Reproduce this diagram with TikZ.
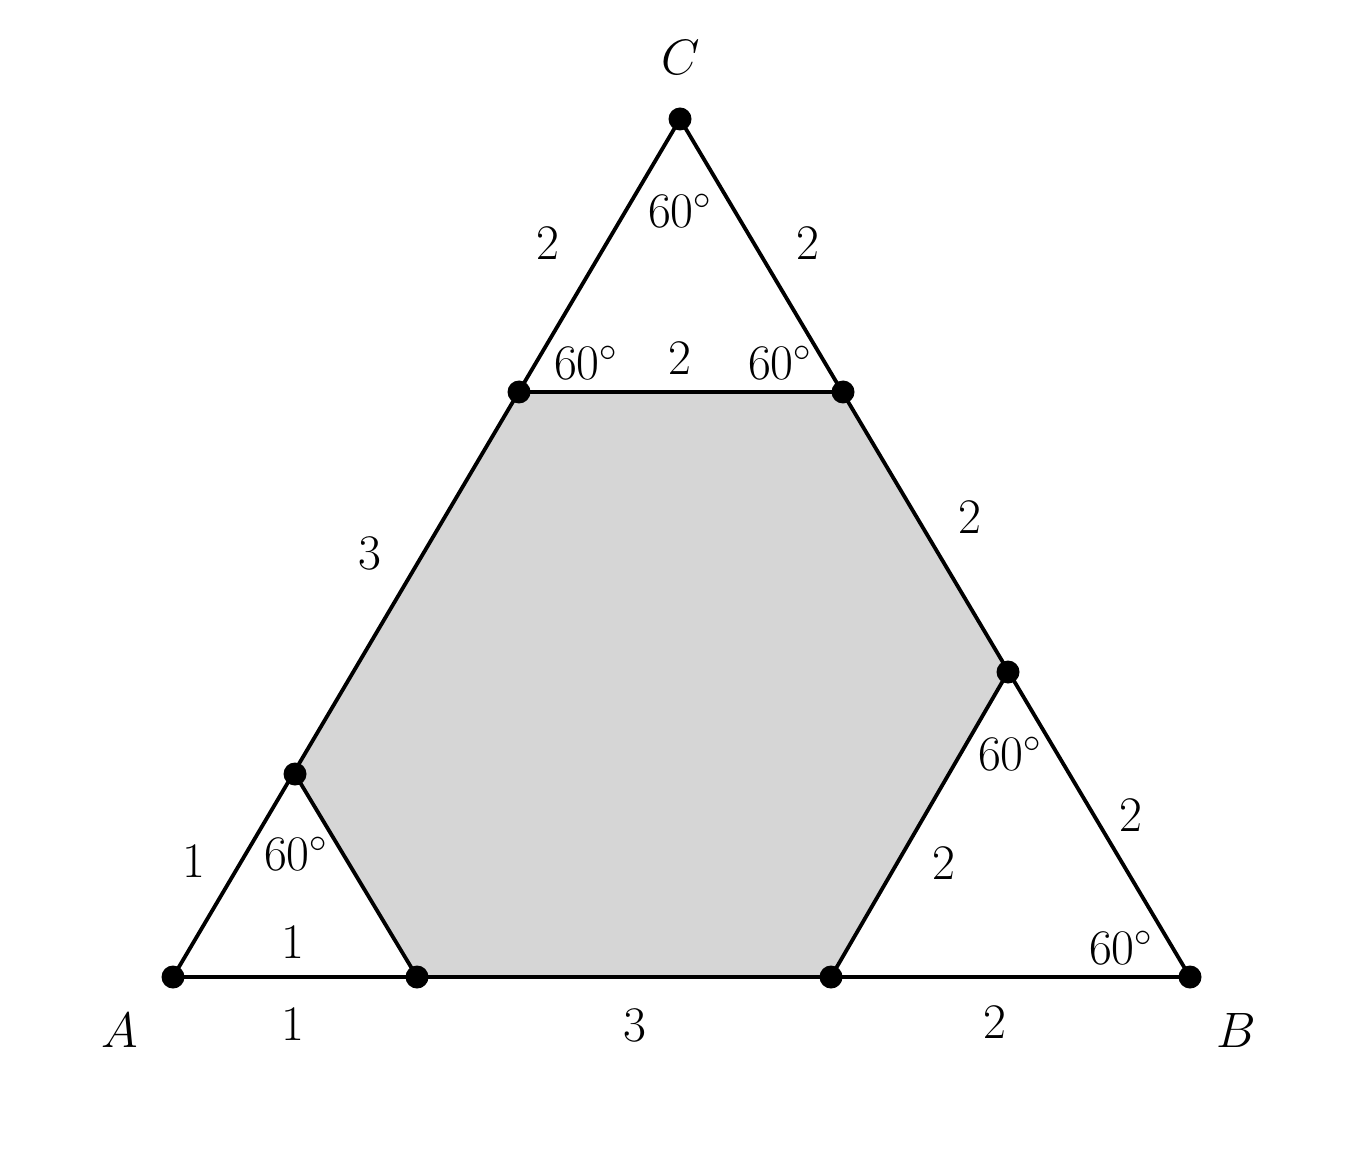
\documentclass[tikz,border=0pt]{standalone}
\begin{document}
\begin{tikzpicture}[x=0.5pt,y=-0.5pt,
  edge/.style={line width=1.9pt,line join=round},
  dot/.style={circle,fill=black,inner sep=0pt,minimum size=11.5pt},
  lbl/.style={inner sep=0pt,font=\fontsize{31}{36}\selectfont},
  ang/.style={inner sep=0pt,font=\fontsize{23}{27}\selectfont},
  vlbl/.style={inner sep=0pt,font=\fontsize{33}{38}\selectfont}]
\useasboundingbox (0,0) rectangle (1363,1154);
\definecolor{hexgray}{RGB}{214,214,214}
% points
\coordinate (A) at (173,977);
\coordinate (B) at (1190,977);
\coordinate (C) at (680,119);
\coordinate (Q1) at (519,392);
\coordinate (R1) at (843,392);
\coordinate (R2) at (1008,672);
\coordinate (P2) at (831,977);
\coordinate (P1) at (417,977);
\coordinate (Q2) at (295,774);
% hexagon fill
\fill[hexgray] (Q1) -- (R1) -- (R2) -- (P2) -- (P1) -- (Q2) -- cycle;
% edges
\draw[edge] (A) -- (B) -- (C) -- cycle;
\draw[edge] (Q1) -- (R1);
\draw[edge] (R2) -- (P2);
\draw[edge] (Q2) -- (P1);
% dots
\foreach \p in {A,B,C,Q1,R1,R2,P2,P1,Q2}
  \node[dot] (d\p) at (\p) {};
% vertex labels
\node[vlbl] (lC) at (681,58) {$C$};
\node[vlbl] (lA) at (120,1030) {$A$};
\node[vlbl] (lB) at (1236,1030) {$B$};
% angle labels
\node[ang] (a1) at (680,211) {$60^\circ$};
\node[ang] (a2) at (586,363) {$60^\circ$};
\node[ang] (a3) at (780,363) {$60^\circ$};
\node[ang] (a4) at (1010,754) {$60^\circ$};
\node[ang] (a5) at (296,854) {$60^\circ$};
\node[ang] (a6) at (1121,948) {$60^\circ$};
% length labels
\node[lbl] (s1) at (548,243) {$2$};
\node[lbl] (s2) at (808,243) {$2$};
\node[lbl] (s3) at (680,358) {$2$};
\node[lbl] (s4) at (970,517) {$2$};
\node[lbl] (s5) at (370,553) {$3$};
\node[lbl] (s6) at (1131,815) {$2$};
\node[lbl] (s7) at (944,863) {$2$};
\node[lbl] (s8) at (194,861) {$1$};
\node[lbl] (s9) at (293,942) {$1$};
\node[lbl] (s10) at (293,1024) {$1$};
\node[lbl] (s11) at (635,1025) {$3$};
\node[lbl] (s12) at (995,1022) {$2$};
\end{tikzpicture}
\end{document}
